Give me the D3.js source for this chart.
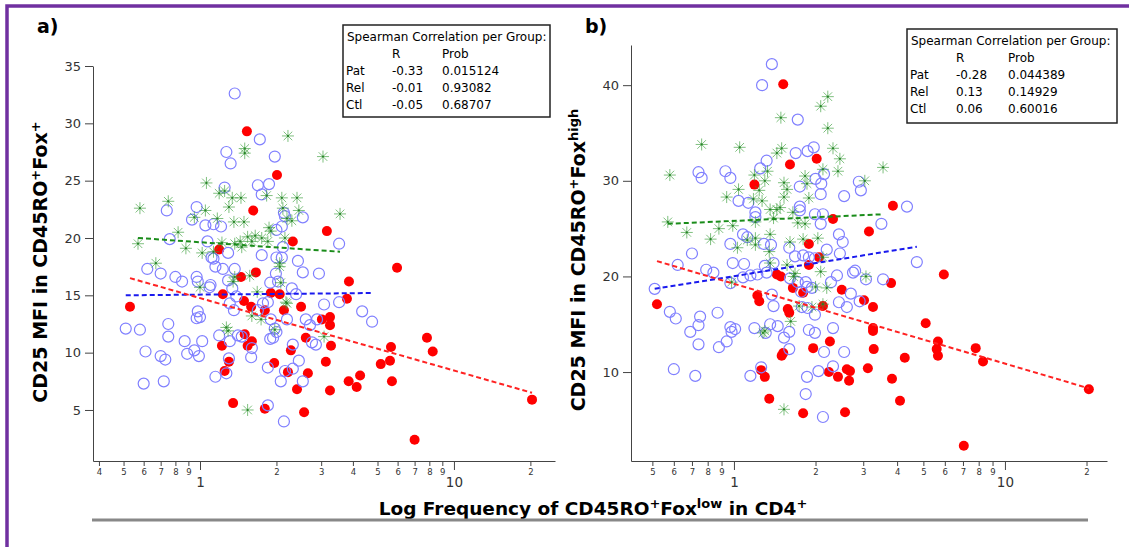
<!DOCTYPE html>
<html>
<head>
<meta charset="utf-8">
<script src="https://cdn.jsdelivr.net/npm/d3@7"></script>
<style>
  body { margin: 0; background: #fff; }
  text { font-family: "DejaVu Sans", Verdana, sans-serif; }
</style>
</head>
<body>
<div id="chart"></div>
<script>
// ---- panel a : CD25 MFI in CD45RO+Fox+ vs log freq ----
const patA = [[1.53,29.3],[2.01,25.5],[1.62,22.4],[3.16,20.6],[2.32,19.7],[1.19,19.0],[1.66,17.0],[1.45,16.6],
  [3.86,16.2],[0.53,14.0],[1.23,15.1],[1.49,14.5],[1.90,15.2],[2.06,15.1],[1.59,14.0],[1.80,13.7],[2.14,13.7],
  [2.50,14.0],[3.02,12.9],[3.25,13.1],[3.25,12.4],[1.50,11.6],[1.60,11.0],[1.54,10.6],[1.22,10.6],[2.61,11.3],
  [2.28,10.2],[3.28,10.6],[1.30,9.2],[1.25,8.4],[1.96,9.1],[2.22,8.3],[2.66,8.2],[3.13,9.2],[2.41,6.8],[3.25,6.7],
  [1.35,5.6],[1.80,5.1],[2.57,4.8],[3.79,14.7],[3.85,7.5],[4.14,7.0],[4.27,8.0],[5.97,17.4],[7.83,11.3],[8.25,10.1],
  [5.65,10.5],[5.60,9.3],[5.15,9.0],[5.70,7.5],[20.3,5.9],[7.0,2.4]];
const relA = [[1.37,32.6],[1.72,28.6],[1.27,27.5],[1.97,27.1],[1.32,26.5],[1.25,24.4],[1.69,24.6],[1.87,24.7],
  [1.75,23.8],[0.97,22.7],[0.74,22.4],[0.93,21.6],[1.05,21.1],[1.13,21.2],[1.21,21.0],[2.14,22.2],[2.16,21.9],
  [2.54,21.8],[2.10,21.0],[2.00,20.7],[0.76,19.9],[1.07,19.7],[2.12,19.2],[2.00,18.3],[2.10,18.3],[1.11,18.3],
  [1.29,18.7],[1.75,18.5],[2.43,18.0],[3.53,19.5],[2.54,17.0],[2.94,16.9],[0.62,17.3],[0.70,16.9],[0.80,16.6],
  [0.97,16.6],[1.13,18.2],[1.15,17.5],[1.23,17.3],[1.37,17.3],[0.85,16.2],[0.98,16.2],[1.09,15.7],[1.10,15.9],
  [1.29,16.3],[1.34,15.6],[1.39,14.9],[1.31,14.3],[1.36,13.7],[0.98,13.6],[0.97,13.0],[1.00,13.1],[0.75,12.5],
  [0.75,11.4],[0.51,12.1],[0.58,12.0],[0.61,10.1],[0.70,9.7],[0.73,9.4],[0.60,7.3],[0.72,7.5],[0.87,11.0],
  [0.89,9.9],[0.95,10.2],[0.99,9.7],[1.02,11.0],[1.19,11.5],[1.31,11.0],[1.41,11.5],[1.46,11.4],[1.60,10.4],
  [1.59,9.6],[1.30,9.5],[1.27,8.2],[1.15,7.9],[1.85,8.7],[2.08,7.5],[1.85,5.4],[2.14,4.0],[1.89,11.2],[1.94,11.3],
  [2.00,11.8],[1.97,12.1],[1.89,16.1],[1.99,16.9],[2.03,16.2],[2.30,15.6],[2.39,15.1],[1.85,14.4],[1.77,14.3],
  [1.69,13.7],[2.20,12.9],[1.90,12.9],[2.61,12.9],[2.71,12.4],[2.89,12.9],[3.08,14.2],[2.32,10.7],[2.45,9.3],
  [2.32,8.6],[2.16,8.4],[2.54,7.5],[2.76,10.9],[2.86,10.7],[3.53,14.4],[4.35,13.6],[4.76,12.7]];
const ctlA = [[2.22,28.9],[3.05,27.1],[1.50,27.8],[1.50,27.4],[1.06,24.8],[0.75,23.2],[0.58,22.6],[1.19,23.9],
  [1.25,24.1],[1.34,23.5],[1.45,23.5],[1.83,23.7],[2.10,23.5],[2.41,23.5],[1.30,22.7],[1.05,22.4],[0.95,21.8],
  [1.17,21.7],[1.36,21.4],[1.49,21.4],[2.12,22.6],[2.45,22.4],[2.20,21.7],[2.30,21.5],[0.82,20.5],[0.57,19.5],
  [0.88,19.1],[1.87,20.9],[1.90,20.6],[1.54,20.1],[1.65,20.2],[1.75,20.0],[1.44,19.7],[1.60,19.7],[1.85,19.7],
  [1.22,19.6],[1.02,18.7],[1.13,18.8],[2.16,20.0],[1.37,19.5],[1.46,19.2],[3.56,22.1],[0.67,17.8],[2.06,17.8],
  [2.06,17.5],[1.35,16.2],[1.37,16.6],[1.57,16.7],[1.00,15.7],[2.08,16.1],[2.18,14.4],[2.20,14.3],[1.68,15.3],
  [1.60,13.2],[1.74,12.9],[1.97,12.0],[1.27,12.2],[1.29,11.9],[1.54,5.0],[3.08,11.4]];
const fitPatA = [[0.53,16.5],[20.3,6.5]];
const fitRelA = [[0.51,15.0],[4.76,15.2]];
const fitCtlA = [[0.57,20.0],[3.56,18.8]];
const statsA = [["Pat","-0.33","0.015124"],["Rel","-0.01","0.93082"],["Ctl","-0.05","0.68707"]];

// ---- panel b : CD25 MFI in CD45RO+Fox high ----
const patB = [[1.52,40.1],[1.61,31.7],[2.02,32.3],[1.19,29.6],[2.32,26.0],[3.15,24.7],[3.86,27.4],[1.89,23.4],
  [2.06,22.0],[1.89,21.2],[1.44,20.2],[1.49,20.0],[1.65,18.8],[1.80,18.3],[0.52,17.1],[1.22,18.0],[1.24,17.4],
  [1.58,16.6],[1.60,16.2],[2.13,16.9],[2.50,18.6],[3.02,17.5],[3.26,16.8],[3.26,14.6],[3.26,14.3],[3.80,19.3],
  [2.26,13.2],[1.96,12.5],[3.28,12.4],[1.52,12.0],[1.50,11.7],[1.26,10.2],[1.30,9.5],[2.24,10.0],[2.61,10.3],
  [2.68,10.1],[2.42,9.5],[2.66,9.1],[3.12,10.4],[3.83,9.3],[1.35,7.2],[1.80,5.7],[2.57,5.8],[4.10,7.0],[5.95,20.2],
  [4.27,11.5],[5.10,15.1],[5.66,13.2],[5.60,12.4],[5.66,11.7],[7.80,12.5],[8.30,11.1],[7.05,2.3],[20.4,8.2]];
const relB = [[1.38,42.2],[1.27,40.0],[1.72,36.4],[0.74,30.9],[0.76,30.3],[0.93,31.0],[0.97,30.3],[1.32,32.1],
  [1.25,31.3],[1.69,32.9],[1.87,33.1],[1.97,33.5],[2.00,30.2],[2.10,29.7],[2.15,30.7],[2.09,28.6],[1.75,29.4],
  [2.55,28.4],[2.89,29.9],[2.94,29.0],[1.04,27.9],[1.13,27.7],[1.20,26.7],[1.20,26.2],[1.75,27.3],[1.75,26.9],
  [1.99,26.5],[2.13,26.5],[2.09,25.5],[3.50,25.5],[1.08,24.4],[1.12,24.1],[0.97,23.4],[1.29,23.4],[1.37,23.3],
  [1.60,23.0],[2.44,24.4],[2.52,23.6],[0.70,22.4],[2.20,22.8],[2.46,22.4],[0.62,21.2],[0.79,20.7],[0.84,20.4],
  [4.35,27.3],[4.73,21.5],[0.99,21.4],[1.09,21.3],[0.51,18.7],[0.58,16.3],[0.61,15.6],[0.75,15.8],[0.74,14.9],
  [0.69,14.2],[0.74,12.9],[0.87,16.2],[0.88,12.6],[0.94,13.2],[0.97,14.7],[1.01,14.5],[0.98,14.2],[0.60,10.3],
  [0.72,9.6],[0.97,19.3],[1.08,19.9],[1.15,20.1],[1.22,20.2],[1.32,20.4],[1.40,21.4],[1.30,21.1],[1.38,18.1],
  [1.40,16.9],[1.19,14.6],[1.36,15.0],[1.45,14.8],[1.31,14.1],[1.60,14.2],[1.53,13.6],[1.60,12.4],[1.15,9.6],
  [1.26,10.5],[1.61,19.8],[1.72,19.4],[1.84,19.4],[1.68,22.1],[1.80,22.2],[1.89,22.0],[1.99,21.9],[1.77,18.4],
  [1.86,18.9],[1.94,18.8],[1.78,16.8],[1.87,16.7],[1.99,16.0],[1.89,14.4],[1.99,14.1],[1.86,9.5],[1.84,7.7],
  [2.13,5.3],[2.05,10.1],[2.15,12.1],[2.28,19.4],[2.40,20.1],[2.44,17.3],[2.61,16.8],[2.70,18.2],[2.32,14.6],
  [2.55,12.1],[2.32,10.6],[2.75,20.4],[2.80,20.6],[2.91,17.4],[3.07,19.7],[3.55,19.7]];
const ctlB = [[2.22,38.8],[2.09,37.8],[2.22,35.5],[1.49,36.6],[0.76,33.8],[1.05,33.5],[0.58,30.6],[1.50,33.4],
  [1.44,32.9],[2.32,33.4],[2.46,32.3],[2.13,31.2],[2.42,31.0],[3.55,31.4],[3.04,30.0],[1.19,30.6],[1.33,31.0],
  [1.30,30.0],[1.04,29.1],[0.94,28.3],[1.53,29.8],[1.57,29.1],[1.24,29.0],[1.27,27.9],[1.18,28.1],[1.53,28.3],
  [1.83,30.5],[1.86,29.7],[1.89,28.2],[1.36,27.0],[1.44,27.0],[1.48,27.2],[1.65,26.7],[1.40,26.1],[0.57,25.7],
  [0.67,24.6],[0.88,25.0],[0.99,25.3],[0.82,23.9],[1.20,25.7],[1.72,25.6],[1.83,25.5],[1.36,24.4],[1.20,24.0],
  [1.12,23.8],[1.61,23.6],[1.80,23.9],[2.04,24.0],[1.03,23.0],[1.20,23.3],[1.35,22.6],[3.07,20.0],[1.36,21.4],
  [1.57,21.2],[1.68,20.3],[1.66,20.0],[2.09,20.5],[2.13,22.0],[2.00,18.9],[2.20,18.8],[0.98,19.4],[1.74,16.9],
  [1.94,16.8],[2.13,17.1],[1.62,15.3],[1.28,14.1],[1.30,14.3],[1.53,6.1]];
const fitPatB = [[0.52,21.6],[20.4,8.3]];
const fitRelB = [[0.51,18.7],[4.73,23.1]];
const fitCtlB = [[0.57,25.5],[3.55,26.5]];
const statsB = [["Pat","-0.28","0.044389"],["Rel","0.13","0.14929"],["Ctl","0.06","0.60016"]];

const minorA = [0.4,0.5,0.6,0.7,0.8,0.9,2,3,4,5,6,7,8,9,20];
const minorB = [0.5,0.6,0.7,0.8,0.9,2,3,4,5,6,7,8,9,20];
const majorX = [1, 10];
const yTicksA = [5,10,15,20,25,30,35];
const yTicksB = [10,20,30,40];

const W = 1129, H = 547;
const svg = d3.select("#chart").append("svg")
  .attr("width", W).attr("height", H);

svg.append("rect").attr("width", W).attr("height", H).attr("fill", "#fff");

// purple frame (only top & left edges fall inside the picture)
svg.append("rect")
  .attr("x", 7).attr("y", 6).attr("width", 1300).attr("height", 700)
  .attr("fill", "none").attr("stroke", "#7030a0").attr("stroke-width", 3.5);

const lead = d => Math.round(d / Math.pow(10, Math.floor(Math.log10(d) + 1e-9)));
const starPath = "M-6,0L6,0M0,-6L0,6M-4.3,-4.3L4.3,4.3M-4.3,4.3L4.3,-4.3";

function panel(p) {
  const x = d3.scaleLog().domain(p.xDomain).range(p.xRange);
  const y = d3.scaleLinear().domain(p.yDomain).range([461, p.yTop]);
  const g = svg.append("g");

  // y axis
  const ya = g.append("g").attr("transform", `translate(${p.xRange[0]},0)`)
    .call(d3.axisLeft(y).tickValues(p.yTicks).tickSize(8).tickSizeOuter(0).tickPadding(4));
  ya.selectAll("text").style("font-size", "13px").attr("fill", "#333");

  // x axis, minor ticks with leading digit
  const xa = g.append("g").attr("transform", "translate(0,461)")
    .call(d3.axisBottom(x).tickValues(p.minor).tickSize(5).tickSizeOuter(0).tickPadding(3)
      .tickFormat(lead));
  xa.selectAll("text").style("font-size", "8.5px").attr("fill", "#333");
  const xm = g.append("g").attr("transform", "translate(0,461)")
    .call(d3.axisBottom(x).tickValues(majorX).tickSize(9).tickSizeOuter(0).tickPadding(7)
      .tickFormat(d3.format("d")));
  xm.select(".domain").remove();
  xm.selectAll("text").style("font-size", "13.5px").attr("fill", "#333");
  g.selectAll(".domain, .tick line").attr("stroke", "#444");

  // red filled (Pat)
  g.append("g").selectAll("circle").data(p.pat).join("circle")
    .attr("cx", d => x(d[0])).attr("cy", d => y(d[1])).attr("r", 5)
    .attr("fill", "#ff0000");
  // blue open circles (Rel)
  g.append("g").selectAll("circle").data(p.rel).join("circle")
    .attr("cx", d => x(d[0])).attr("cy", d => y(d[1])).attr("r", 5.5)
    .attr("fill", "none").attr("stroke", "#8080ff").attr("stroke-width", 1.2);
  // green stars (Ctl)
  const st = g.append("g").selectAll("g").data(p.ctl).join("g")
    .attr("transform", d => `translate(${x(d[0])},${y(d[1])})`);
  st.append("path").attr("d", starPath)
    .attr("stroke", "#3a9e3a").attr("stroke-opacity", 0.65).attr("stroke-width", 1);
  st.append("circle").attr("r", 1.1).attr("fill", "#1f7a1f").attr("opacity", 0.8);

  // dashed fit lines
  const line = d3.line().x(d => x(d[0])).y(d => y(d[1]));
  [[p.fitCtl, "#1a8c1a"], [p.fitRel, "#1a1aee"], [p.fitPat, "#ff2222"]].forEach(([f, c]) => {
    g.append("path").attr("d", line(f)).attr("fill", "none")
      .attr("stroke", c).attr("stroke-width", 2).attr("stroke-dasharray", "5,3");
  });

  // legend box
  const lg = g.append("g").attr("transform", `translate(${p.box[0]},${p.box[1]})`);
  lg.append("rect").attr("width", p.box[2]).attr("height", p.box[3])
    .attr("fill", "#fff").attr("stroke", "#222").attr("stroke-width", 1.5);
  lg.append("text").attr("x", 4).attr("y", 16).style("font-size", "12px")
    .text("Spearman Correlation per Group:");
  lg.append("text").attr("x", p.cols[0]).attr("y", 33).style("font-size", "12px").text("R");
  lg.append("text").attr("x", p.cols[1]).attr("y", 33).style("font-size", "12px").text("Prob");
  p.stats.forEach((r, i) => {
    const yy = 50 + i * 17;
    lg.append("text").attr("x", 3).attr("y", yy).style("font-size", "12px").text(r[0]);
    lg.append("text").attr("x", p.cols[0]).attr("y", yy).style("font-size", "12px").text(r[1]);
    lg.append("text").attr("x", p.cols[1]).attr("y", yy).style("font-size", "12px").text(r[2]);
  });

  // panel letter
  g.append("text").attr("x", p.letter[0]).attr("y", 33)
    .style("font-size", "19px").style("font-weight", "bold").text(p.letter[1]);

  // y label
  const yl = g.append("text")
    .attr("transform", `translate(${p.yLab[0]},${p.yLab[1]}) rotate(-90)`)
    .attr("text-anchor", "middle").style("font-size", "19px").style("font-weight", "bold");
  yl.append("tspan").text("CD25 MFI in CD45RO");
  yl.append("tspan").attr("baseline-shift", "super").style("font-size", "13px").text("+");
  yl.append("tspan").text("Fox");
  yl.append("tspan").attr("baseline-shift", "super").style("font-size", "13px").text(p.sup);
}

panel({
  xDomain: [0.379, 25], xRange: [93, 555], yDomain: [0.55, 35], yTop: 66,
  yTicks: yTicksA, minor: minorA,
  pat: patA, rel: relA, ctl: ctlA, fitPat: fitPatA, fitRel: fitRelA, fitCtl: fitCtlA,
  stats: statsA, box: [343, 25, 207, 92], cols: [49, 99],
  letter: [37, "a)"], yLab: [47, 262], sup: "+"
});
panel({
  xDomain: [0.417, 23.8], xRange: [631, 1107], yDomain: [0.7, 44.2], yTop: 45,
  yTicks: yTicksB, minor: minorB,
  pat: patB, rel: relB, ctl: ctlB, fitPat: fitPatB, fitRel: fitRelB, fitCtl: fitCtlB,
  stats: statsB, box: [907, 29, 210, 94], cols: [49, 101],
  letter: [585, "b)"], yLab: [585, 260], sup: "high"
});

// shared x label and grey rule
const xl = svg.append("text").attr("x", 593).attr("y", 515).attr("text-anchor", "middle")
  .style("font-size", "18.5px").style("font-weight", "bold");
xl.append("tspan").text("Log Frequency of CD45RO");
xl.append("tspan").attr("baseline-shift", "super").style("font-size", "13px").text("+");
xl.append("tspan").text("Fox");
xl.append("tspan").attr("baseline-shift", "super").style("font-size", "13px").text("low");
xl.append("tspan").text(" in CD4");
xl.append("tspan").attr("baseline-shift", "super").style("font-size", "13px").text("+");

svg.append("line").attr("x1", 92).attr("x2", 1088).attr("y1", 520).attr("y2", 520)
  .attr("stroke", "#888").attr("stroke-width", 3);
</script>
</body>
</html>
